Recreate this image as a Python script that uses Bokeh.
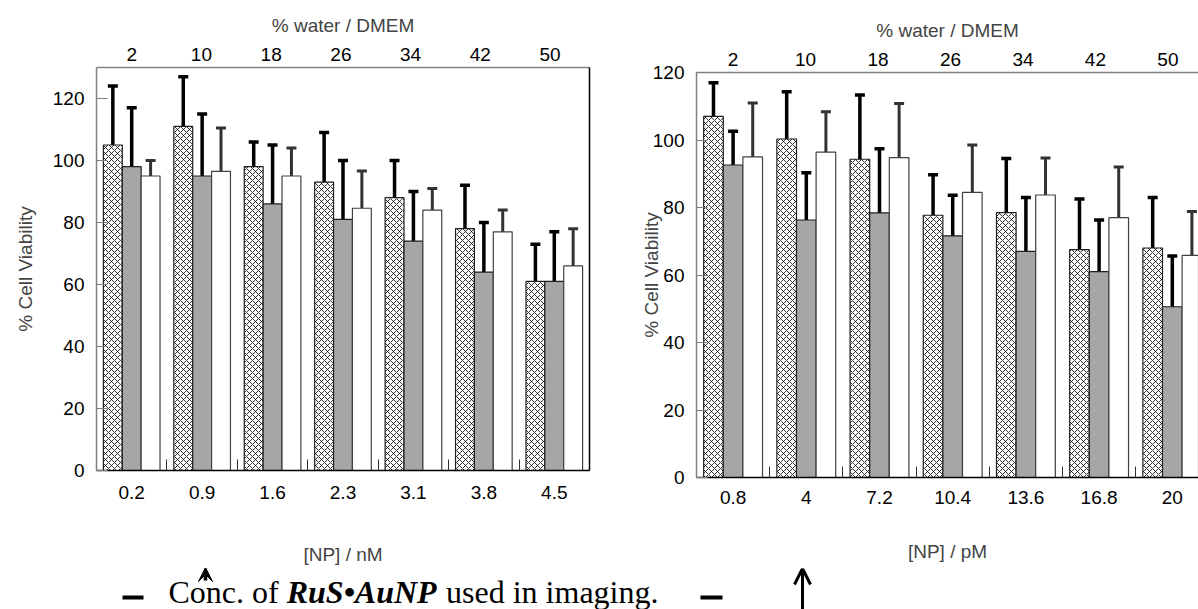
from bokeh.plotting import figure
from bokeh.models import (Range1d, FixedTicker, LinearAxis, Whisker, ColumnDataSource,
                          TeeHead, Title, Arrow, VeeHead, OpenHead)
from bokeh.layouts import column, row
from bokeh.embed import file_html
from bokeh.resources import INLINE
from bokeh.core.properties import value

# ---- data -------------------------------------------------------------
water_pct = ["2", "10", "18", "26", "34", "42", "50"]

nm_conc = ["0.2", "0.9", "1.6", "2.3", "3.1", "3.8", "4.5"]
nm_hatched = [105, 111, 98, 93, 88, 78, 61]
nm_hatched_err = [19, 16, 8, 16, 12, 14, 12]
nm_gray = [98, 95, 86, 81, 74, 64, 61]
nm_gray_err = [19, 20, 19, 19, 16, 16, 16]
nm_white = [95, 96.5, 95, 84.6, 84, 77, 66]
nm_white_err = [5, 14, 9, 12, 7, 7, 12]

pm_conc = ["0.8", "4", "7.2", "10.4", "13.6", "16.8", "20"]
pm_hatched = [107, 100.3, 94.3, 77.7, 78.5, 67.5, 68]
pm_hatched_err = [10, 14, 19, 12, 16, 15, 15]
pm_gray = [92.6, 76.3, 78.4, 71.6, 67, 61, 50.6]
pm_gray_err = [10, 14, 19, 12, 16, 15.3, 15]
pm_white = [95, 96.4, 94.8, 84.5, 83.7, 77, 65.8]
pm_white_err = [16, 12, 16, 14, 11, 15, 13]

y_ticks = [0, 20, 40, 60, 80, 100, 120]

SANS = "Liberation Sans"
SERIF = "Liberation Serif"
FS = "19px"
BAR_W = 0.268
ROW_H = 568
STRIP_H = 609 - ROW_H


def bar_chart(width, border_left, border_right, border_top, frame_bottom, x_end, y_end,
              conc, hatched, hatched_err, gray, gray_err, white, white_err,
              x_title, tick_standoff, x_title_standoff, y_label_standoff, top_step):
    p = figure(width=width, height=ROW_H,
               x_range=Range1d(0, x_end), y_range=Range1d(0, y_end),
               x_axis_location=None, y_axis_location=None,
               output_backend="svg", toolbar_location=None,
               min_border_left=border_left, min_border_right=border_right,
               min_border_top=border_top, min_border_bottom=ROW_H - frame_bottom)
    p.grid.visible = False
    p.outline_line_color = None
    p.background_fill_color = "white"

    n = len(conc)
    centers = [i + 0.5 for i in range(n)]

    # bottom axis: concentration labels centred in each group, short ticks between groups
    bottom = LinearAxis(ticker=FixedTicker(ticks=centers, minor_ticks=list(range(n + 1))),
                        major_label_overrides={c: t for c, t in zip(centers, conc)},
                        major_tick_in=0, major_tick_out=0,
                        minor_tick_in=11, minor_tick_out=0,
                        minor_tick_line_color="#303030",
                        axis_line_color="black", axis_line_width=1.5,
                        major_label_text_font=SANS, major_label_text_font_size=FS,
                        major_label_text_color="black",
                        major_label_standoff=tick_standoff,
                        axis_label=x_title, axis_label_text_font=SANS,
                        axis_label_text_font_size=FS, axis_label_text_font_style="normal",
                        axis_label_standoff=x_title_standoff)
    p.add_layout(bottom, "below")

    # top axis: medium composition
    top_pos = [0.5 + i * top_step for i in range(n)]
    top = LinearAxis(ticker=FixedTicker(ticks=top_pos),
                     major_label_overrides={c: t for c, t in zip(top_pos, water_pct)},
                     major_tick_in=0, major_tick_out=0,
                     axis_line_color="#808080", axis_line_width=1.5,
                     major_label_text_font=SANS, major_label_text_font_size=FS,
                     major_label_text_color="black", major_label_standoff=7)
    p.add_layout(top, "above")
    p.add_layout(Title(text="% water / DMEM", text_font=SANS, text_font_size=FS,
                       text_font_style="normal", align="center", offset=-14,
                       standoff=18), "above")

    left = LinearAxis(ticker=FixedTicker(ticks=y_ticks),
                      major_tick_in=11, major_tick_out=0,
                      major_tick_line_color="#808080",
                      axis_line_color="#808080", axis_line_width=1.5,
                      major_label_text_font=SANS, major_label_text_font_size=FS,
                      major_label_text_color="black", major_label_standoff=12,
                      axis_label="% Cell Viability", axis_label_text_font=SANS,
                      axis_label_text_font_size=FS, axis_label_text_font_style="normal",
                      axis_label_standoff=y_label_standoff)
    p.add_layout(left, "left")

    series = [
        (-BAR_W, hatched, hatched_err, dict(fill_color="white", hatch_pattern="diagonal_cross",
                                            hatch_color="black", hatch_scale=6, hatch_weight=0.8,
                                            line_color="#202020"), "black", 3.5),
        (0.0, gray, gray_err, dict(fill_color="#a6a6a6", line_color="#202020"), "black", 3.5),
        (BAR_W, white, white_err, dict(fill_color="white", line_color="#404040"), "#333333", 3),
    ]
    for off, vals, errs, style, ecol, ew in series:
        xs = [c + off for c in centers]
        src = ColumnDataSource(dict(x=xs, top=vals,
                                    upper=[v + e for v, e in zip(vals, errs)],
                                    lower=[v - e for v, e in zip(vals, errs)]))
        p.vbar(x="x", top="top", bottom=0, width=BAR_W, source=src, line_width=1.2, **style)
        p.add_layout(Whisker(source=src, base="x", upper="upper", lower="lower",
                             line_color=ecol, line_width=ew,
                             upper_head=TeeHead(size=10, line_color=ecol, line_width=ew),
                             lower_head=TeeHead(size=10, line_color=ecol, line_width=ew)))
    return p


left_chart = bar_chart(636, 96, 47, 67, 470, 7, 130,
                       nm_conc, nm_hatched, nm_hatched_err, nm_gray, nm_gray_err,
                       nm_white, nm_white_err, "[NP] / nM", 15, 42, 14, 0.99)
left_chart.add_layout(LinearAxis(ticker=FixedTicker(ticks=[]), major_tick_in=0, major_tick_out=0,
                                 axis_line_color="black", axis_line_width=1.5,
                                 major_label_text_font_size="0px"), "right")

right_chart = bar_chart(562, 60, 0, 72, 477, 502 / 73.2, 120,
                        pm_conc, pm_hatched, pm_hatched_err, pm_gray, pm_gray_err,
                        pm_white, pm_white_err, "[NP] / pM", 13, 34, -12, 0.99)

# ---- caption strip ------------------------------------------------------
strip = figure(width=1198, height=STRIP_H, x_range=Range1d(0, 1198),
               y_range=Range1d(609, ROW_H), x_axis_location=None, y_axis_location=None,
               output_backend="svg", toolbar_location=None,
               min_border=0)
strip.grid.visible = False
strip.outline_line_color = None

CAP_FS = 32
mid_y = 591
x0 = 168
x1 = x0 + 3.694 * CAP_FS
x2 = x1 + 4.98 * CAP_FS
cap_style = dict(text_font=value(SERIF), text_font_size=f"{CAP_FS}px",
                 text_baseline="middle", text_color="black")
strip.text(x=[x0], y=[mid_y], text=["Conc. of"], **cap_style)
strip.text(x=[x1], y=[mid_y], text=["RuS\u2022AuNP"], text_font_style="bold italic", **cap_style)
strip.text(x=[x2], y=[mid_y], text=["used in imaging."], **cap_style)
strip.segment(x0=[122, 700], y0=[597, 597], x1=[143, 722], y1=[597, 597],
              line_width=4, line_color="black")
strip.add_layout(Arrow(x_start=205, y_start=580, x_end=205, y_end=567,
                       line_width=3.5, line_color="black",
                       end=VeeHead(size=14, fill_color="black", line_color="black")))
strip.add_layout(Arrow(x_start=802, y_start=609, x_end=802, y_end=568,
                       line_width=3, line_color="black",
                       end=OpenHead(size=16, line_width=3, line_color="black")))

layout = column(row(column(left_chart), column(right_chart)), strip)
open("out.html", "w").write(file_html(layout, INLINE))
